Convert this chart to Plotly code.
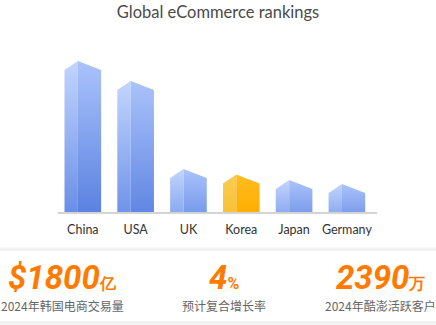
import plotly.graph_objects as go

# ---------------- data ----------------
categories = ["China", "USA", "UK", "Korea", "Japan", "Germany"]
values = [142, 122, 34, 28.5, 23, 19]
highlight = "Korea"
stat_values = ["$1800", "4", "2390"]
stat_units = ["亿", "%", "万"]
stat_labels = ["2024年韩国电商交易量", "预计复合增长率", "2024年酷澎活跃客户"]
title_text = "Global eCommerce rankings"

# ---------------- layout geometry ----------------
W, H = 436, 325
ML, MR, MT, MB = 58, 59, 40, 113
PW, PH = W - ML - MR, H - MT - MB
Y_MAX = 172
X_MIN, X_MAX = -0.47, 5.57
HALF = 0.347
PEAK = 0.254
CAP = 9


def px_x(px):
    return (px - ML) / PW


def px_y(py):
    return (H - MB - py) / PH


def hex2rgb(h):
    h = h.lstrip("#")
    return tuple(int(h[i:i + 2], 16) for i in (0, 2, 4))


def mix(a, b, t):
    ra, rb = hex2rgb(a), hex2rgb(b)
    c = [round(ra[k] + (rb[k] - ra[k]) * t) for k in range(3)]
    return "rgb(%d,%d,%d)" % tuple(c)


BLUE_L_TOP, BLUE_L_BOT = "#c2d5fd", "#6a8fe6"
BLUE_R_TOP, BLUE_R_BOT = "#abc3fb", "#5b82e1"
GOLD_L_TOP, GOLD_L_BOT = "#f9cd55", "#f6c237"
GOLD_R_TOP, GOLD_R_BOT = "#ffbc22", "#ffae00"

fig = go.Figure()
vmax = max(values)
for i, (cat, v) in enumerate(zip(categories, values)):
    L = i - HALF
    P = L + PEAK
    R = i + HALF
    top = v + CAP
    if cat == highlight:
        lt, lb, rt, rb = GOLD_L_TOP, GOLD_L_BOT, GOLD_R_TOP, GOLD_R_BOT
        t = 1.0
    else:
        lt, lb, rt, rb = BLUE_L_TOP, BLUE_L_BOT, BLUE_R_TOP, BLUE_R_BOT
        t = 0.5 + 0.5 * v / vmax
    left_bot = mix(lt, lb, t)
    right_bot = mix(rt, rb, t)
    fig.add_trace(go.Scatter(
        x=[L, L, P, P, L], y=[0, v, top, 0, 0],
        mode="lines", fill="toself", line=dict(width=0),
        fillgradient=dict(type="vertical", start=0, stop=top,
                          colorscale=[[0, left_bot], [1, lt]]),
        hoverinfo="skip", showlegend=False))
    fig.add_trace(go.Scatter(
        x=[P, P, R, R, P], y=[0, top, v, 0, 0],
        mode="lines", fill="toself", line=dict(width=0),
        fillgradient=dict(type="vertical", start=0, stop=top,
                          colorscale=[[0, right_bot], [1, rt]]),
        hoverinfo="skip", showlegend=False))

shapes = [
    dict(type="rect", xref="paper", yref="paper",
         x0=px_x(0), x1=px_x(W), y0=px_y(251), y1=px_y(247.5),
         fillcolor="#f2f2f2", line=dict(width=0), layer="below"),
    dict(type="rect", xref="paper", yref="paper",
         x0=px_x(0), x1=px_x(W), y0=px_y(325), y1=px_y(321),
         fillcolor="#f2f2f2", line=dict(width=0), layer="below"),
]

annotations = []
stat_centers = [62, 224, 380]
for cx, val, unit, lab in zip(stat_centers, stat_values, stat_units, stat_labels):
    annotations.append(dict(
        xref="paper", yref="paper", x=px_x(cx), y=px_y(277),
        xanchor="center", yanchor="middle", showarrow=False,
        text="<b><i>%s</i></b><b><span style='font-size:16px'>%s</span></b>" % (val, unit),
        font=dict(family="Roboto", size=33, color="#ff7a00")))
    annotations.append(dict(
        xref="paper", yref="paper", x=px_x(cx), y=px_y(305),
        xanchor="center", yanchor="middle", showarrow=False,
        text=lab,
        font=dict(family="Noto Sans CJK SC", size=12, color="#666666")))

fig.update_layout(
    width=W, height=H,
    margin=dict(l=ML, r=MR, t=MT, b=MB, pad=0),
    paper_bgcolor="white", plot_bgcolor="white",
    title=dict(text=title_text, x=0.5, xanchor="center", xref="container",
               y=1 - 12 / H, yref="container", yanchor="middle",
               font=dict(family="Lato", size=16.5, color="#4a4a4a")),
    xaxis=dict(range=[X_MIN, X_MAX], tickvals=list(range(len(categories))),
               ticktext=categories, showgrid=False, zeroline=False,
               showline=True, linecolor="#d4d4d4", linewidth=2,
               ticks="", ticklabelstandoff=5,
               tickfont=dict(family="Lato", size=12.5, color="#333333"),
               fixedrange=True),
    yaxis=dict(range=[0, Y_MAX], visible=False, showgrid=False,
               zeroline=False, fixedrange=True),
    shapes=shapes, annotations=annotations,
)

fig.write_html("out.html")
